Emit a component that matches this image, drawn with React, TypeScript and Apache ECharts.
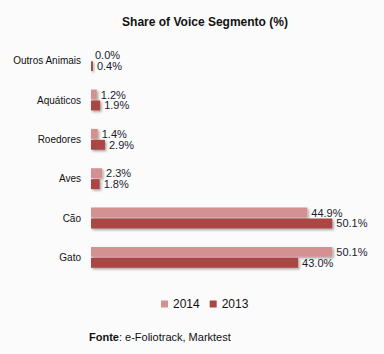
import React, { useEffect, useRef } from "react";
import * as echarts from "echarts";

const categories = ["Outros Animais", "Aquáticos", "Roedores", "Aves", "Cão", "Gato"];
const values2014 = [0.0, 1.2, 1.4, 2.3, 44.9, 50.1];
const values2013 = [0.4, 1.9, 2.9, 1.8, 50.1, 43.0];
const seriesNames = ["2014", "2013"];
const titleText = "Share of Voice Segmento (%)";
const sourceBold = "Fonte";
const sourceRest = ": e-Foliotrack, Marktest";

const FONT = "'Liberation Sans', Arial, sans-serif";

export default function App() {
  const ref = useRef<HTMLDivElement>(null);
  useEffect(() => {
    document.body.style.margin = "0";
    const chart = echarts.init(ref.current!, undefined, { renderer: "svg" });
    const label = {
      show: true,
      position: "right" as const,
      distance: 4,
      fontSize: 11,
      fontFamily: FONT,
      color: "#1a1a2e",
      formatter: (p: any) => Number(p.value).toFixed(1) + "%",
    };
    const shadow = {
      shadowColor: "rgba(0,0,0,0.35)",
      shadowBlur: 2,
      shadowOffsetX: 1.5,
      shadowOffsetY: 1.5,
    };
    chart.setOption({
      animation: false,
      backgroundColor: "#fbfbfb",
      title: {
        text: titleText,
        left: 200,
        textAlign: "center",
        top: 11,
        textStyle: { fontSize: 12, fontWeight: "bold", fontFamily: FONT, color: "#111" },
      },
      legend: {
        data: seriesNames,
        left: 156,
        top: 293,
        icon: "rect",
        itemWidth: 7,
        itemHeight: 7,
        itemGap: 10,
        textStyle: { fontSize: 12, fontFamily: FONT, color: "#111" },
      },
      grid: { left: 91, right: 4, top: 41, height: 236 },
      xAxis: {
        type: "value",
        min: 0,
        max: 60,
        show: false,
        splitLine: { show: false },
      },
      yAxis: {
        type: "category",
        data: categories,
        inverse: true,
        axisLine: { show: false },
        axisTick: { show: false },
        axisLabel: { fontSize: 10, fontFamily: FONT, color: "#111", margin: 10 },
      },
      series: [
        {
          name: seriesNames[0],
          type: "bar",
          data: values2014,
          barCategoryGap: "47%",
          barGap: "10%",
          itemStyle: { color: "#d39291", ...shadow },
          label,
        },
        {
          name: seriesNames[1],
          type: "bar",
          data: values2013,
          barCategoryGap: "47%",
          barGap: "10%",
          itemStyle: { color: "#aa4744", ...shadow },
          label,
        },
      ],
      graphic: [
        {
          type: "text",
          left: 89,
          top: 331,
          style: {
            text: "{b|" + sourceBold + "}{r|" + sourceRest + "}",
            rich: {
              b: { fontSize: 11, fontWeight: "bold", fontFamily: FONT, fill: "#111" },
              r: { fontSize: 11, fontFamily: FONT, fill: "#111" },
            },
          },
        },
      ],
    });
    return () => chart.dispose();
  }, []);
  return <div ref={ref} style={{ width: 384, height: 354 }} />;
}
